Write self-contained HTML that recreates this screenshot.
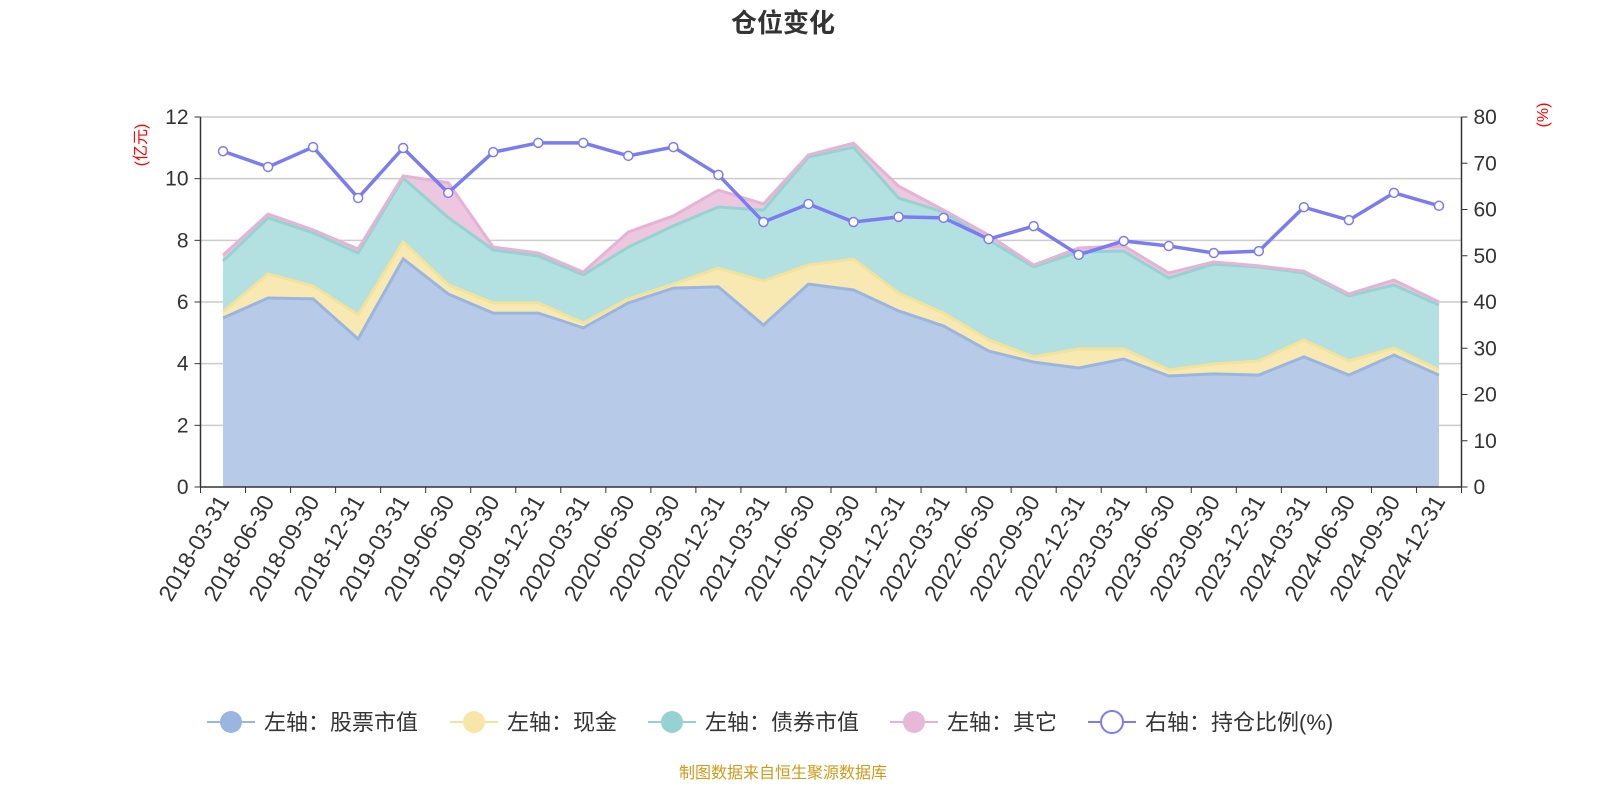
<!DOCTYPE html>
<html><head><meta charset="utf-8">
<style>
body{margin:0;background:#fff;}
svg{display:block;font-family:"Liberation Sans","Noto Sans CJK SC",sans-serif;}
</style></head>
<body>
<svg id="chart" width="1600" height="800" viewBox="0 0 1600 800" xmlns="http://www.w3.org/2000/svg">
<text x="783" y="32" text-anchor="middle" font-size="26" font-weight="bold" fill="#333">仓位变化</text>
<g id="grid"></g>
<g id="areas"></g>
<g id="axes"></g>
<g id="ratio"></g>
<text transform="translate(146,145) rotate(-90)" text-anchor="middle" font-size="16" fill="#f00">(亿元)</text>
<text transform="translate(1548,115) rotate(-90)" text-anchor="middle" font-size="16" fill="#f00">(%)</text>
<g id="legend"></g>
<text x="783" y="778" text-anchor="middle" font-size="16" fill="#d09a1c">制图数据来自恒生聚源数据库</text>
</svg>
<script>
const categories=["2018-03-31","2018-06-30","2018-09-30","2018-12-31","2019-03-31","2019-06-30","2019-09-30","2019-12-31","2020-03-31","2020-06-30","2020-09-30","2020-12-31","2021-03-31","2021-06-30","2021-09-30","2021-12-31","2022-03-31","2022-06-30","2022-09-30","2022-12-31","2023-03-31","2023-06-30","2023-09-30","2023-12-31","2024-03-31","2024-06-30","2024-09-30","2024-12-31"];
const stockValues=[5.48,6.13,6.1,4.8,7.4,6.26,5.64,5.64,5.16,5.97,6.45,6.49,5.25,6.58,6.39,5.71,5.22,4.41,4.05,3.86,4.15,3.6,3.67,3.63,4.22,3.63,4.28,3.63];
const cashValues=[0.2,0.78,0.42,0.78,0.55,0.3,0.33,0.33,0.16,0.13,0.13,0.61,1.43,0.62,1.0,0.58,0.42,0.36,0.17,0.62,0.33,0.2,0.32,0.46,0.55,0.46,0.23,0.17];
const bondValues=[1.65,1.82,1.72,2.01,2.07,2.18,1.72,1.52,1.56,1.68,1.89,1.98,2.3,3.5,3.63,3.08,3.28,3.24,2.92,3.14,3.17,2.98,3.24,3.05,2.17,2.11,2.04,2.1];
const otherValues=[0.19,0.12,0.1,0.13,0.07,1.13,0.09,0.1,0.09,0.49,0.32,0.55,0.2,0.07,0.13,0.39,0.06,0.16,0.06,0.13,0.17,0.16,0.07,0.03,0.06,0.06,0.16,0.1];
const ratioValues=[72.6,69.2,73.5,62.5,73.3,63.6,72.4,74.4,74.4,71.6,73.5,67.5,57.3,61.2,57.3,58.4,58.2,53.6,56.4,50.2,53.2,52.1,50.6,51.0,60.5,57.7,63.6,60.8];
const leftTicks=[0,2,4,6,8,10,12];
const rightTicks=[0,10,20,30,40,50,60,70,80];

const NS="http://www.w3.org/2000/svg";
const X0=200.5,X1=1461.5,Y0=487,Y1=117;
const bw=(X1-X0)/categories.length;
const xPos=i=>X0+bw*(i+0.5);
const yL=v=>Y0-(v/12)*(Y0-Y1);
const yR=v=>Y0-(v/80)*(Y0-Y1);
function mk(tag,attrs,parent){const e=document.createElementNS(NS,tag);for(const k in attrs)e.setAttribute(k,attrs[k]);parent.appendChild(e);return e;}
const grid=document.getElementById('grid'),axes=document.getElementById('axes'),areas=document.getElementById('areas'),ratio=document.getElementById('ratio'),legend=document.getElementById('legend');

leftTicks.forEach((t,i)=>{
  if(t>0){const g=mk('line',{x1:X0,x2:X1,y1:yL(t),y2:yL(t),stroke:'#ccc','stroke-width':1.5},grid);
  
  }
  const tk=mk('line',{x1:X0-6,x2:X0,y1:yL(t),y2:yL(t),stroke:'#333'},axes);
  
  
  const tx=mk('text',{x:X0-12,y:yL(t)+7,'text-anchor':'end','font-size':21,fill:'#333'},axes);
  tx.textContent=t;
  
  
});
rightTicks.forEach(t=>{
  const tk=mk('line',{x1:X1,x2:X1+6,y1:yR(t),y2:yR(t),stroke:'#333'},axes);
  
  
  const tx=mk('text',{x:X1+12,y:yR(t)+7,'font-size':21,fill:'#333'},axes);
  tx.textContent=t;
  
  
});
let a=mk('line',{x1:X0,x2:X0,y1:Y1,y2:Y0,stroke:'#333','stroke-width':1.5},axes);


a=mk('line',{x1:X1,x2:X1,y1:Y1,y2:Y0,stroke:'#333','stroke-width':1.5},axes);


a=mk('line',{x1:X0,x2:X1,y1:Y0,y2:Y0,stroke:'#333','stroke-width':1.5},axes);


for(let i=0;i<=categories.length;i++){
  const tk=mk('line',{x1:X0+bw*i,x2:X0+bw*i,y1:Y0,y2:Y0+6,stroke:'#333'},axes);
  
  
}
categories.forEach((c,i)=>{
  const tx=mk('text',{transform:`translate(${xPos(i)+7},${Y0+14}) rotate(-60)`,'text-anchor':'end','font-size':23,fill:'#333'},axes);
  tx.textContent=c;
  
  
});

const series=[
 {vals:stockValues,fill:'#b7cbe9',line:'#9ab5df',name:'stock-area'},
 {vals:cashValues,fill:'#f8e9b3',line:'#f3e29a',name:'cash-area'},
 {vals:bondValues,fill:'#b3e0e0',line:'#96d2d2',name:'bond-area'},
 {vals:otherValues,fill:'#edc6df',line:'#e5b3d4',name:'other-area'}];
let base=categories.map(()=>0);
const layers=[];
series.forEach(s=>{
  const top=base.map((b,i)=>b+s.vals[i]);
  layers.push({s,top,base:base.slice()});
  base=top;
});
layers.slice().reverse().forEach(({s,top})=>{
  let d=top.map((v,i)=>(i?'L':'M')+xPos(i)+','+yL(v)).join('');
  d+=`L${xPos(categories.length-1)},${Y0}L${xPos(0)},${Y0}Z`;
  const p=mk('path',{d,fill:s.fill,stroke:'none'},areas);
  
  
});
layers.forEach(({s,top})=>{
  const d=top.map((v,i)=>(i?'L':'M')+xPos(i)+','+yL(v)).join('');
  const p=mk('path',{d,fill:'none',stroke:s.line,'stroke-width':3},areas);
  
  
});
const rd=ratioValues.map((v,i)=>(i?'L':'M')+xPos(i)+','+yR(v)).join('');
const rl=mk('path',{d:rd,fill:'none',stroke:'#7b7bf2','stroke-width':3.5},ratio);


ratioValues.forEach((v,i)=>{
  const c=mk('circle',{cx:xPos(i),cy:yR(v),r:4.5,fill:'#fff',stroke:'#7b7bf2','stroke-width':1.5},ratio);
  
  
});

const leg=[
 {x:207,label:'左轴：股票市值',c:'#9ab5df',f:'#9ab5df'},
 {x:450,label:'左轴：现金',c:'#f3e29a',f:'#f8e6a8'},
 {x:648,label:'左轴：债券市值',c:'#96d2d2',f:'#96d2d2'},
 {x:890,label:'左轴：其它',c:'#e5b3d4',f:'#e8b8d8'},
 {x:1088,label:'右轴：持仓比例(%)',c:'#7b7bf2',f:'#fff'}];
leg.forEach(l=>{
  const g=mk('g',{},legend);
  
  
  mk('line',{x1:l.x,x2:l.x+48,y1:722,y2:722,stroke:l.c,'stroke-width':2},g);
  mk('circle',{cx:l.x+24,cy:722,r:11,fill:l.f,stroke:l.f==='#fff'?l.c:'none','stroke-width':2},g);
  const t=mk('text',{x:l.x+57,y:730,'font-size':22,fill:'#333'},g);
  t.textContent=l.label;
});
</script>
</body></html>
